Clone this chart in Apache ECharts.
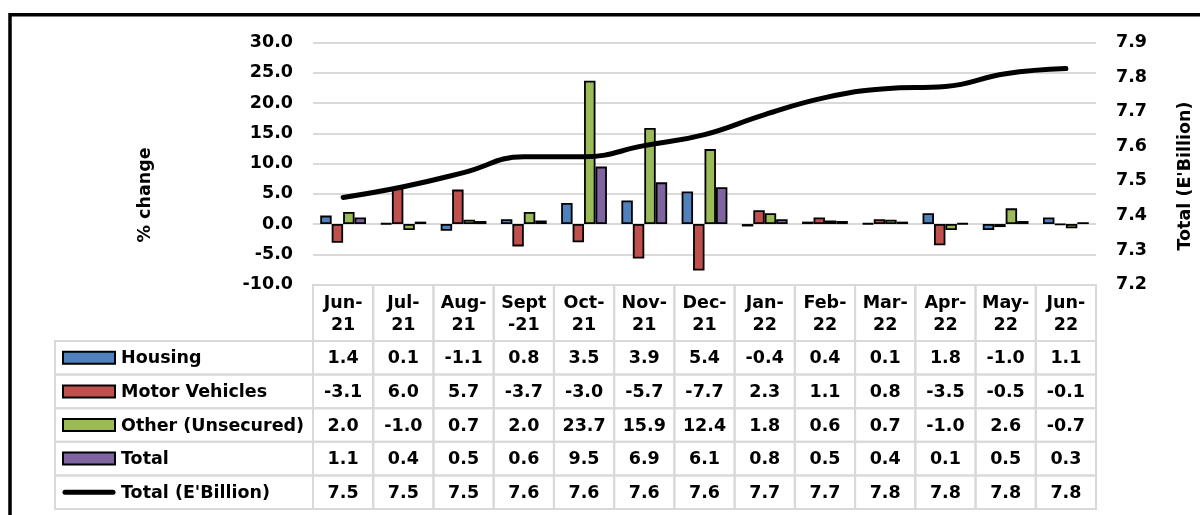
<!DOCTYPE html>
<html>
<head>
<meta charset="utf-8">
<title>Credit growth by category</title>
<script src="https://cdn.jsdelivr.net/npm/echarts@6/dist/echarts.min.js"></script>
<style>
  html, body { margin: 0; padding: 0; background: #fff; }
  #chart { width: 1200px; height: 515px; }
</style>
</head>
<body>
<div id="chart"></div>
<script>
// Months shown along the category axis and in the table header
const months = ['Jun-21', 'Jul-21', 'Aug-21', 'Sept-21', 'Oct-21', 'Nov-21', 'Dec-21',
                'Jan-22', 'Feb-22', 'Mar-22', 'Apr-22', 'May-22', 'Jun-22'];
const monthHeaders = ['Jun-\n21', 'Jul-\n21', 'Aug-\n21', 'Sept\n-21', 'Oct-\n21', 'Nov-\n21', 'Dec-\n21',
                      'Jan-\n22', 'Feb-\n22', 'Mar-\n22', 'Apr-\n22', 'May-\n22', 'Jun-\n22'];

// Percentage change by loan category
const housing        = [1.4, 0.1, -1.1, 0.8, 3.5, 3.9, 5.4, -0.4, 0.4, 0.1, 1.8, -1.0, 1.1];
const motorVehicles  = [-3.1, 6.0, 5.7, -3.7, -3.0, -5.7, -7.7, 2.3, 1.1, 0.8, -3.5, -0.5, -0.1];
const otherUnsecured = [2.0, -1.0, 0.7, 2.0, 23.7, 15.9, 12.4, 1.8, 0.6, 0.7, -1.0, 2.6, -0.7];
const totalChange    = [1.1, 0.4, 0.5, 0.6, 9.5, 6.9, 6.1, 0.8, 0.5, 0.4, 0.1, 0.5, 0.3];

// Outstanding total, E'Billion
const totalBillion   = [7.452, 7.483, 7.524, 7.570, 7.570, 7.602, 7.634, 7.692, 7.741, 7.767, 7.773, 7.810, 7.825];

// Axis tick settings
const leftTicks  = { min: -10, max: 30, interval: 5 };
const rightTicks = { min: 7.2, max: 7.9, interval: 0.1 };

const FONT_FAMILY = 'DejaVu Sans';
const FONT_SIZE = 17.5;
const FONT = 'bold ' + FONT_SIZE + 'px "' + FONT_FAMILY + '"';
const GRID_GREY = '#d9d9d9';

const seriesDefs = [
  { name: 'Housing',           values: housing,        color: '#4f81bd', kind: 'bar' },
  { name: 'Motor Vehicles',    values: motorVehicles,  color: '#c0504d', kind: 'bar' },
  { name: 'Other (Unsecured)', values: otherUnsecured, color: '#9bbb59', kind: 'bar' },
  { name: 'Total',             values: totalChange,    color: '#8064a2', kind: 'bar' },
  { name: "Total (E'Billion)", values: totalBillion,   color: '#000000', kind: 'line' }
];

// Table geometry (below the plot)
const HEADER_H = 56;
const ROW_H = 33.6;
const LEGEND_COL_W = 258;

const fmt = v => (Math.round(v * 10) / 10).toFixed(1);

// One table column: month header plus one value cell per series
function renderColumn(params, api) {
  const i = api.value(0);
  const cs = params.coordSys;
  const cx = api.coord([i, 0])[0];
  const w = api.size([1, 0])[0];
  const x0 = cx - w / 2;
  const children = [];
  children.push({
    type: 'rect',
    shape: { x: x0, y: cs.y, width: w, height: HEADER_H },
    style: { fill: 'none', stroke: GRID_GREY, lineWidth: 2 }
  });
  children.push({
    type: 'text',
    style: {
      text: monthHeaders[i], x: cx, y: cs.y + HEADER_H / 2 + 1,
      align: 'center', verticalAlign: 'middle', font: FONT, fill: '#000', lineHeight: 22
    }
  });
  seriesDefs.forEach((s, k) => {
    const y0 = cs.y + HEADER_H + k * ROW_H;
    children.push({
      type: 'rect',
      shape: { x: x0, y: y0, width: w, height: ROW_H },
      style: { fill: 'none', stroke: GRID_GREY, lineWidth: 2 }
    });
    children.push({
      type: 'text',
      style: {
        text: fmt(s.values[i]), x: cx, y: y0 + ROW_H / 2 + 1,
        align: 'center', verticalAlign: 'middle', font: FONT, fill: '#000'
      }
    });
  });
  return { type: 'group', children: children };
}

// Legend column on the left side of the table
function renderLegendRow(params, api) {
  const k = api.value(0);
  const s = seriesDefs[k];
  const cs = params.coordSys;
  const x0 = cs.x - LEGEND_COL_W;
  const y0 = cs.y + HEADER_H + k * ROW_H;
  const yc = y0 + ROW_H / 2;
  const children = [{
    type: 'rect',
    shape: { x: x0, y: y0, width: LEGEND_COL_W, height: ROW_H },
    style: { fill: 'none', stroke: GRID_GREY, lineWidth: 2 }
  }];
  if (s.kind === 'bar') {
    children.push({
      type: 'rect',
      shape: { x: x0 + 8, y: yc - 6, width: 52, height: 12 },
      style: { fill: s.color, stroke: '#000', lineWidth: 2 }
    });
  } else {
    children.push({
      type: 'line',
      shape: { x1: x0 + 10, y1: yc, x2: x0 + 58, y2: yc },
      style: { stroke: '#000', lineWidth: 5, lineCap: 'round' }
    });
  }
  children.push({
    type: 'text',
    style: {
      text: s.name, x: x0 + 66, y: yc + 1,
      align: 'left', verticalAlign: 'middle', font: FONT, fill: '#000'
    }
  });
  return { type: 'group', children: children };
}

const chart = echarts.init(document.getElementById('chart'), null, { renderer: 'canvas' });

const barSeries = seriesDefs.filter(s => s.kind === 'bar').map(s => ({
  name: s.name,
  type: 'bar',
  xAxisIndex: 0,
  yAxisIndex: 0,
  data: s.values,
  barGap: '0%',
  barCategoryGap: '24%',
  itemStyle: { color: s.color, borderColor: '#000', borderWidth: 1.8 },
  emphasis: { disabled: true }
}));

const lineDef = seriesDefs.find(s => s.kind === 'line');

const option = {
  backgroundColor: '#ffffff',
  animation: false,
  textStyle: { fontFamily: FONT_FAMILY },
  grid: [
    { left: 313, right: 104, top: 42.7, height: 241.8 },
    { left: 313, right: 104, top: 285, height: 224 }
  ],
  xAxis: [
    {
      type: 'category', gridIndex: 0, data: months,
      axisLine: { show: false }, axisTick: { show: false }, axisLabel: { show: false }
    },
    {
      type: 'category', gridIndex: 1, data: months, show: false
    }
  ],
  yAxis: [
    {
      type: 'value', gridIndex: 0,
      min: leftTicks.min, max: leftTicks.max, interval: leftTicks.interval,
      axisLine: { show: false }, axisTick: { show: false },
      axisLabel: {
        formatter: v => v.toFixed(1), color: '#000', fontWeight: 'bold',
        fontSize: FONT_SIZE, fontFamily: FONT_FAMILY, margin: 20
      },
      splitLine: { show: true, lineStyle: { color: GRID_GREY, width: 2 } }
    },
    {
      type: 'value', gridIndex: 0, position: 'right',
      min: rightTicks.min, max: rightTicks.max, interval: rightTicks.interval,
      axisLine: { show: false }, axisTick: { show: false },
      axisLabel: {
        formatter: v => v.toFixed(1), color: '#000', fontWeight: 'bold',
        fontSize: FONT_SIZE, fontFamily: FONT_FAMILY, margin: 20
      },
      splitLine: { show: false }
    },
    {
      type: 'value', gridIndex: 1, min: 0, max: 1, show: false
    }
  ],
  series: barSeries.concat([
    {
      name: lineDef.name,
      type: 'line',
      xAxisIndex: 0,
      yAxisIndex: 1,
      data: lineDef.values,
      smooth: 0.45,
      symbol: 'none',
      lineStyle: { color: '#000', width: 5, cap: 'round' },
      z: 5,
      emphasis: { disabled: true }
    },
    {
      name: 'table',
      type: 'custom',
      xAxisIndex: 1,
      yAxisIndex: 2,
      clip: false,
      silent: true,
      data: months.map((m, i) => [i, 0]),
      renderItem: renderColumn
    },
    {
      name: 'table-legend',
      type: 'custom',
      xAxisIndex: 1,
      yAxisIndex: 2,
      clip: false,
      silent: true,
      data: seriesDefs.map((s, k) => [k, 0]),
      renderItem: renderLegendRow
    }
  ]),
  graphic: [
    {
      type: 'rect', silent: true,
      shape: { x: 10, y: 14.7, width: 1400, height: 700 },
      style: { fill: 'none', stroke: '#000', lineWidth: 3.5 }
    },
    {
      type: 'text', silent: true, x: 145, y: 195, rotation: Math.PI / 2,
      style: { text: '% change', align: 'center', verticalAlign: 'middle', font: FONT, fill: '#000' }
    },
    {
      type: 'text', silent: true, x: 1185, y: 176, rotation: Math.PI / 2,
      style: { text: "Total (E'Billion)", align: 'center', verticalAlign: 'middle', font: FONT, fill: '#000' }
    }
  ]
};

chart.setOption(option);
</script>
</body>
</html>
